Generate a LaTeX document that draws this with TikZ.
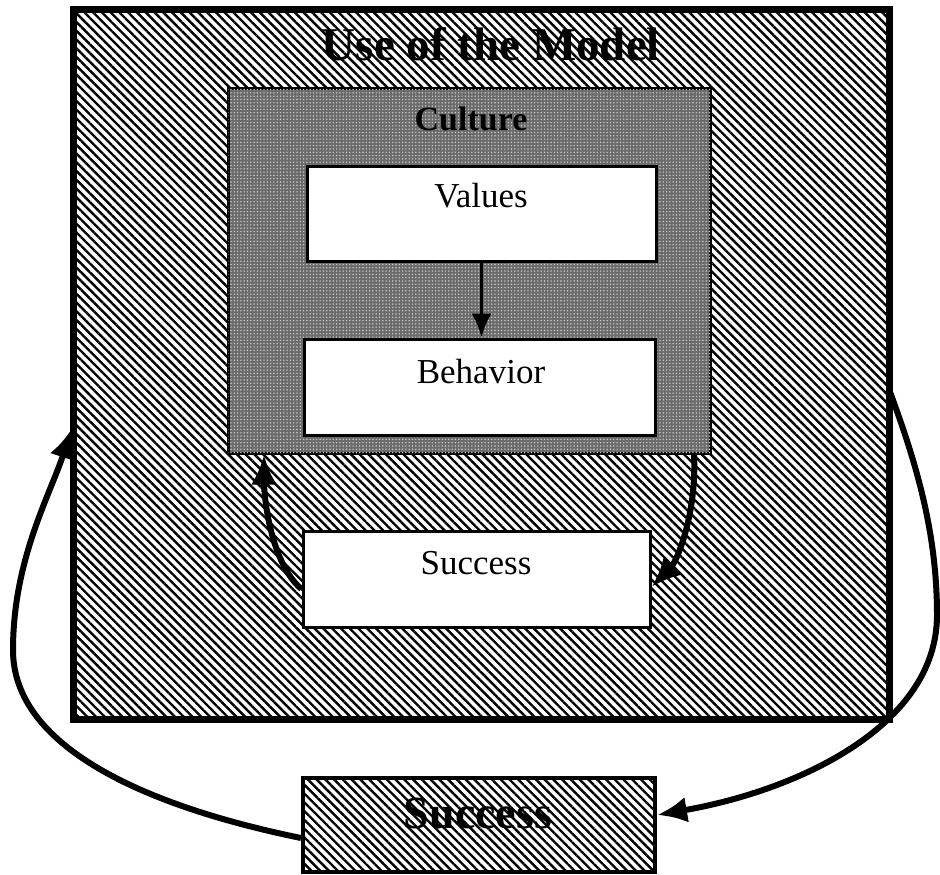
\documentclass[tikz,border=0pt]{standalone}
\usepackage{fontspec}
\setmainfont{Liberation Serif}
\usetikzlibrary{arrows.meta,patterns.meta}
\begin{document}
\begin{tikzpicture}[x=1pt,y=-1pt,
  hatch/.style={pattern={Lines[angle=-45,distance=6.2pt,line width=2.4pt]}},
  whitebox/.style={draw=black,line width=3pt,fill=white,inner sep=0pt},
  lbl/.style={font=\fontsize{35}{38}\selectfont},
  bold/.style={font=\fontsize{#1}{#1}\selectfont\bfseries},
  arr/.style={line width=6pt,-{Latex[length=30pt,width=26pt]}}]
\useasboundingbox (0,0) rectangle (940,875);
% outer box
\node[draw,line width=7pt,hatch,minimum width=816pt,minimum height=709pt,inner sep=0pt] (outer) at (481,364.5) {};
\node[bold=47] (title) at (491,44) {Use of the Model};
% culture box
\node[draw,line width=3pt,fill=black!58,minimum width=482pt,minimum height=364pt,inner sep=0pt,
  postaction={pattern={Dots[distance=3.3pt,radius=0.8pt]},pattern color=white!80!black}] (culture) at (469,271) {};
\node[bold=34] (culturelbl) at (471,119) {Culture};
% values / behavior
\node[whitebox,minimum width=349pt,minimum height=95pt] (vals) at (481.5,213.5) {};
\node[lbl] (valslbl) at (481,196) {Values};
\node[whitebox,minimum width=351pt,minimum height=96pt] (beh) at (479.5,387) {};
\node[lbl] (behlbl) at (481,372) {Behavior};
\draw[line width=3.5pt,-{Latex[length=24pt,width=20pt]}] (vals.south) -- (vals.south |- beh.north);
% inner success
\node[whitebox,minimum width=347pt,minimum height=96pt] (succ) at (476.5,579) {};
\node[lbl] (succlbl) at (476,563) {Success};
\draw[arr] ([yshift=-10pt]succ.west) .. controls +(-30,-25) and +(0,45) .. ([xshift=-205pt]culture.south);
\draw[arr] ([xshift=225pt]culture.south) .. controls +(3,60) and +(25,-25) .. ([yshift=-8pt]succ.east);
% bottom success
\node[draw,line width=4pt,hatch,minimum width=352pt,minimum height=94pt,inner sep=0pt] (bottom) at (479,825) {};
\node[bold=46] (bottomlbl) at (478,814) {Success};
% big loop arrows
\draw[arr] ([yshift=-13pt]bottom.west) .. controls (140,805) and (13,745) .. (13,650)
   .. controls (13,560) and (50,495) .. ([yshift=-64pt]outer.west);
\draw[arr] ([yshift=-28pt]outer.east) .. controls (915,460) and (937,530) .. (937,615)
   .. controls (937,725) and (800,790) .. ([yshift=10pt]bottom.east);
\end{tikzpicture}
\end{document}
